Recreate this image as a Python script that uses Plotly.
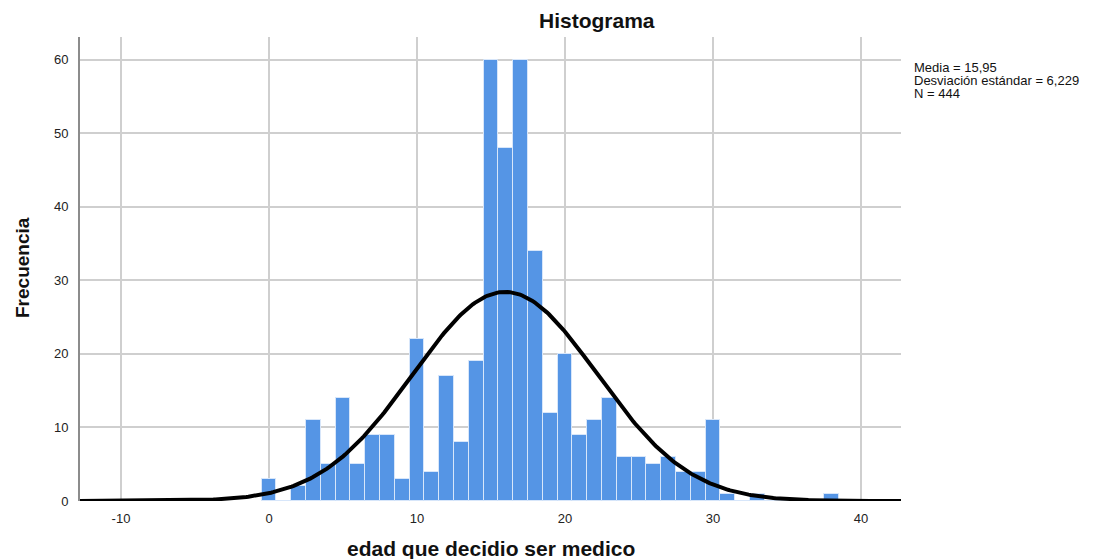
import numpy as np
import plotly.graph_objects as go

# histogram data (bin centres, counts)
edad = list(range(0, 39))
frecuencia = [3, 0, 2, 11, 5, 14, 5, 9, 9, 3,
              22, 4, 17, 8, 19, 60, 48, 60, 34, 12,
              20, 9, 11, 14, 6, 6, 5, 6, 4, 4,
              11, 1, 0, 1, 0, 0, 0, 0, 1]

media = 15.95
desv = 6.229
n_total = 444

x_ticks = [-10, 0, 10, 20, 30, 40]
x_tick_labels = ["-10", "0", "10", "20", "30", "40"]
y_ticks = [0, 10, 20, 30, 40, 50, 60]

# normal curve with the reported statistics
xc = np.linspace(-12.8, 42.7, 400)
yc = n_total / (desv * np.sqrt(2 * np.pi)) * np.exp(-0.5 * ((xc - media) / desv) ** 2)

fig = go.Figure()
fig.add_trace(go.Bar(x=edad, y=frecuencia, width=1,
                     marker_color="rgb(85,149,229)",
                     marker_line=dict(color="rgba(215,230,250,1)", width=1),
                     hoverinfo="x+y"))
fig.add_trace(go.Scatter(x=xc, y=yc, mode="lines", cliponaxis=False,
                         line=dict(color="black", width=4), hoverinfo="skip"))

# page body has an 8px margin, so the figure is 8px smaller than the window
fig.update_layout(
    width=1109, height=551,
    margin=dict(l=72, r=216, t=29, b=58),
    plot_bgcolor="white", paper_bgcolor="white",
    showlegend=False, bargap=0,
    font=dict(family="Liberation Sans, Arial, sans-serif", size=13, color="#222"),
)
fig.update_xaxes(range=[-12.77, 42.7], tickvals=x_ticks, ticktext=x_tick_labels,
                 showgrid=True, gridcolor="#cfcfcf", gridwidth=1.5, zeroline=False,
                 showline=False, ticks="", ticklabelstandoff=8)
fig.update_yaxes(range=[0, 63.1], tickvals=y_ticks, showgrid=True,
                 gridcolor="#cfcfcf", gridwidth=1.5, zeroline=False,
                 showline=True, linecolor="#8c8c8c", linewidth=2,
                 ticks="", ticklabelstandoff=7)

def px(p):
    return (p - 80) / 821

def py(p):
    return (501 - p) / 464

fig.add_annotation(text="<b>Histograma</b>", xref="paper", yref="paper",
                   x=px(597), y=py(20), xanchor="center", yanchor="middle",
                   showarrow=False, font=dict(size=21, color="#111"))
fig.add_annotation(text="<b>edad que decidio ser medico</b>", xref="paper", yref="paper",
                   x=px(491), y=py(548), xanchor="center", yanchor="middle",
                   showarrow=False, font=dict(size=21, color="#111"))
fig.add_annotation(text="<b>Frecuencia</b>", xref="paper", yref="paper",
                   x=px(22), y=py(268), xanchor="center", yanchor="middle",
                   showarrow=False, textangle=-90,
                   font=dict(family="Liberation Sans Narrow, Arial Narrow, sans-serif",
                             size=19, color="#111"))

stats = ["Media = 15,95", "Desviación estándar = 6,229", "N = 444"]
for i, s in enumerate(stats):
    fig.add_annotation(text=s, xref="paper", yref="paper",
                       x=px(912), y=py(67 + 13.5 * i), xanchor="left", yanchor="middle",
                       showarrow=False, font=dict(size=13, color="#111"))

fig.write_html("out.html")
